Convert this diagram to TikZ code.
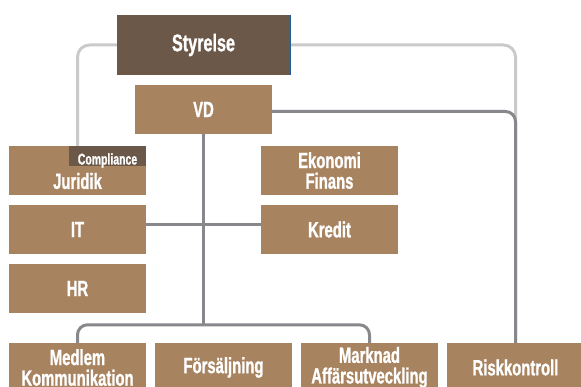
\documentclass[tikz,border=0pt]{standalone}
\usepackage{fontspec}
\newfontfamily\condfont{Liberation Sans}[FakeStretch=0.675, BoldFeatures={FakeBold=1}]
\definecolor{boardbrown}{RGB}{107,88,72}
\definecolor{unitbrown}{RGB}{168,131,95}
\definecolor{linegray}{RGB}{136,136,140}
\definecolor{palegray}{RGB}{202,202,202}
\definecolor{edgeblue}{RGB}{30,95,155}
\tikzstyle{board} = [rectangle, fill=boardbrown, text=white,
    font=\condfont\bfseries\fontsize{24}{25}\selectfont,
    minimum width=173pt, minimum height=60pt, inner sep=0pt]
\tikzstyle{unit} = [rectangle, fill=unitbrown, text=white, align=center,
    font=\condfont\bfseries\fontsize{22}{20.6}\selectfont,
    minimum width=137pt, minimum height=49pt, inner sep=0pt]
\tikzstyle{tab} = [rectangle, fill=boardbrown, text=white,
    font=\condfont\bfseries\fontsize{15.5}{16}\selectfont,
    minimum width=77pt, minimum height=20pt, inner sep=0pt,
    text height=17pt, text depth=0pt]
\tikzstyle{line} = [draw=linegray, line width=3pt, rounded corners=10pt]
\tikzstyle{line2} = [draw=palegray, line width=3pt, rounded corners=12pt]

\begin{document}
\begin{tikzpicture}
    \path [use as bounding box, clip] (0,0) rectangle (581pt,-387pt);
    % Place nodes
    \node [board] (sty) at (203.5pt,-45pt) {Styrelse};
    \node [unit, below of=sty, node distance=64.5pt] (vd) {VD};
    \node [unit, below of=vd, node distance=61pt, xshift=-126pt,
        text height=36.8pt, text depth=0pt] (jur) {Juridik};
    \node [unit, right of=jur, node distance=252pt] (eko) {Ekonomi\\Finans};
    \node [unit, below of=jur, node distance=59pt] (it) {IT};
    \node [unit, right of=it, node distance=252pt] (kred) {Kredit};
    \node [unit, below of=it, node distance=59pt] (hr) {HR};
    \node [unit, below of=hr, node distance=79pt] (med) {Medlem\\Kommunikation};
    \node [unit, right of=med, node distance=146pt] (fors) {Försäljning};
    \node [unit, right of=fors, node distance=146pt] (mark) {Marknad\\Affärsutveckling};
    \node [unit, right of=mark, node distance=146pt] (risk) {Riskkontroll};
    \node [tab, anchor=north east] (comp) at (jur.north east) {Compliance};
    \coordinate (bar) at ([yshift=18pt]fors.north);

    % Draw edges
    \path [line2] (sty.west) -| (jur.north);
    \path [line2] (sty.east) -| (risk.north);
    \path [line] ([yshift=-2pt]vd.east) -| (risk.north);
    \path [line] (vd.south) -- (vd.south |- bar);
    \path [line] (med.north) |- (bar) -| (mark.north);
    \path [line] ([yshift=4.5pt]it.east) -- ([yshift=4.5pt]kred.west);
    \draw [edgeblue, line width=1.5pt] ([xshift=0.5pt]sty.north east) -- ([xshift=0.5pt]sty.south east);
\end{tikzpicture}
\end{document}
